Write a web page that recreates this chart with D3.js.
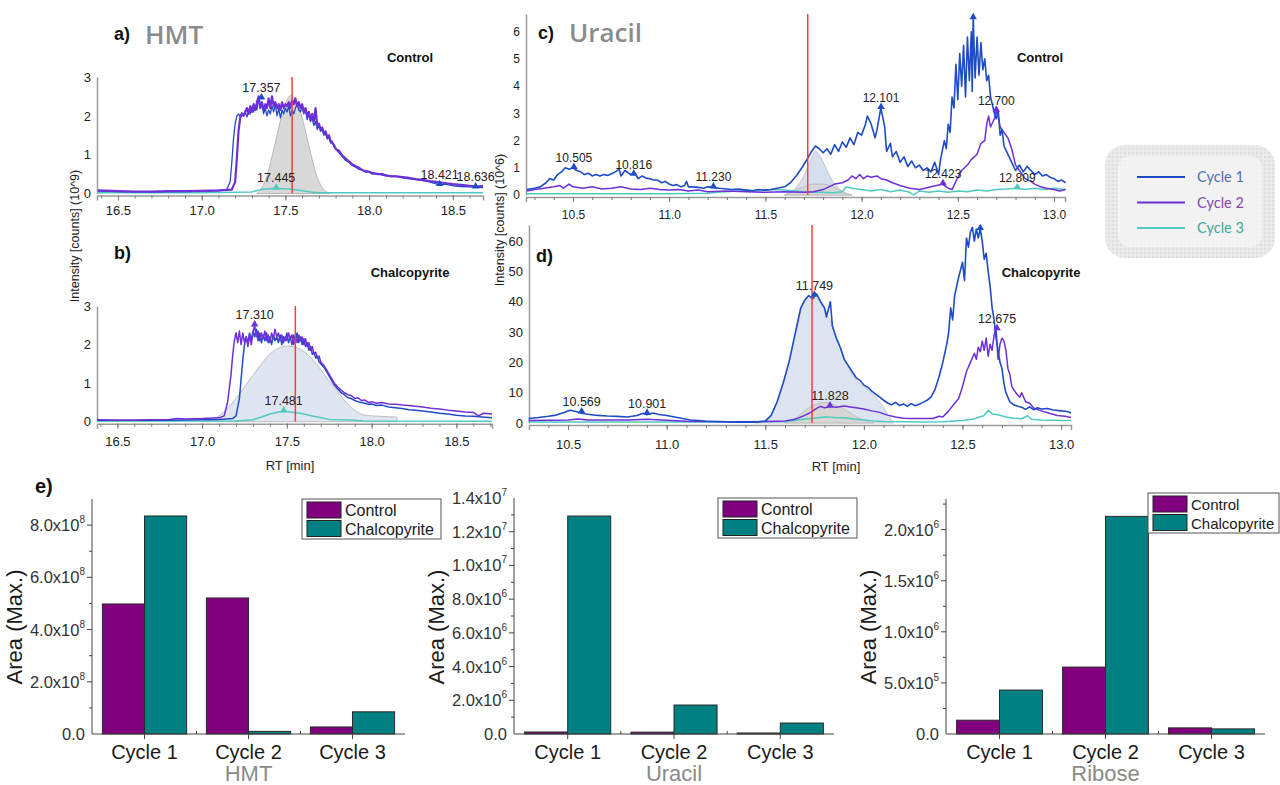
<!DOCTYPE html>
<html><head><meta charset="utf-8">
<script src="https://cdn.jsdelivr.net/npm/d3@7"></script>
<style>body{margin:0;background:#fff}svg{display:block}</style>
</head><body>
<svg id="chart" width="1280" height="785"></svg>
<script>
// ---------------- DATA ----------------
// a) HMT control, intensity (10^9) vs RT (min)
const hmtCtrlCycle1 = [[16.38,0.06],[16.5,0.05],[16.6,0.05],[16.7,0.04],[16.8,0.05],[16.9,0.05],[17.0,0.06],[17.1,0.07],[17.15,0.1],[17.17,0.3],[17.18,0.8],[17.19,1.4],[17.2,1.8],[17.21,2.0],[17.22,2.05],[17.23,1.98],[17.24,2.08],[17.25,2.02],[17.26,2.1],[17.27,1.97],[17.28,2.12],[17.29,2.05],[17.3,2.2],[17.31,2.1],[17.32,2.25],[17.33,2.15],[17.34,2.45],[17.35,2.2],[17.36,2.3],[17.37,2.05],[17.38,2.2],[17.39,2.0],[17.4,2.15],[17.41,2.05],[17.42,2.25],[17.43,2.1],[17.44,2.3],[17.45,2.0],[17.46,2.2],[17.47,1.95],[17.48,2.15],[17.49,2.05],[17.5,2.2],[17.51,2.1],[17.52,2.25],[17.53,2.0],[17.54,2.15],[17.55,2.05],[17.56,2.2],[17.57,2.3],[17.58,2.15],[17.59,2.1],[17.6,2.25],[17.61,2.05],[17.62,2.15],[17.63,1.9],[17.64,2.05],[17.65,1.85],[17.66,1.95],[17.67,1.75],[17.68,1.85],[17.69,1.65],[17.7,1.75],[17.71,1.6],[17.72,1.65],[17.73,1.5],[17.74,1.55],[17.75,1.4],[17.76,1.45],[17.77,1.3],[17.78,1.35],[17.79,1.2],[17.8,1.15],[17.82,1.05],[17.84,0.95],[17.86,0.85],[17.88,0.8],[17.9,0.72],[17.92,0.68],[17.94,0.62],[17.96,0.6],[17.98,0.55],[18.0,0.55],[18.02,0.5],[18.05,0.52],[18.08,0.47],[18.1,0.48],[18.13,0.43],[18.16,0.45],[18.2,0.4],[18.24,0.38],[18.28,0.36],[18.32,0.33],[18.36,0.3],[18.4,0.25],[18.42,0.22],[18.45,0.24],[18.5,0.2],[18.55,0.18],[18.6,0.17],[18.64,0.16],[18.68,0.15]];
const hmtCtrlCycle2 = [[16.38,0.08],[16.5,0.06],[16.6,0.05],[16.7,0.05],[16.8,0.06],[16.9,0.06],[17.0,0.07],[17.1,0.08],[17.18,0.1],[17.2,0.3],[17.21,0.9],[17.22,1.6],[17.23,1.95],[17.24,2.05],[17.25,2.0],[17.26,2.1],[17.27,2.2],[17.28,2.05],[17.29,2.25],[17.3,2.1],[17.31,2.3],[17.32,2.15],[17.33,2.35],[17.34,2.5],[17.35,2.2],[17.36,2.35],[17.37,2.15],[17.38,2.3],[17.39,2.2],[17.4,2.45],[17.41,2.2],[17.42,2.5],[17.43,2.25],[17.44,2.35],[17.45,2.2],[17.46,2.3],[17.47,2.15],[17.48,2.35],[17.49,2.2],[17.5,2.3],[17.51,2.25],[17.52,2.35],[17.53,2.2],[17.54,2.4],[17.55,2.3],[17.56,2.45],[17.57,2.25],[17.58,2.35],[17.59,2.2],[17.6,2.3],[17.61,2.1],[17.62,2.2],[17.63,2.0],[17.64,2.1],[17.65,1.9],[17.66,2.05],[17.67,1.85],[17.68,2.2],[17.69,1.75],[17.7,1.8],[17.71,1.65],[17.72,1.7],[17.73,1.55],[17.74,1.6],[17.75,1.45],[17.76,1.5],[17.77,1.35],[17.78,1.3],[17.79,1.25],[17.8,1.15],[17.82,1.1],[17.84,0.98],[17.86,0.9],[17.88,0.82],[17.9,0.75],[17.92,0.7],[17.94,0.66],[17.96,0.6],[17.98,0.58],[18.0,0.56],[18.02,0.53],[18.05,0.5],[18.08,0.5],[18.1,0.46],[18.13,0.45],[18.16,0.44],[18.2,0.42],[18.24,0.4],[18.28,0.37],[18.32,0.35],[18.36,0.32],[18.4,0.3],[18.45,0.27],[18.5,0.24],[18.55,0.22],[18.6,0.2],[18.64,0.18],[18.68,0.2]];
const hmtCtrlCycle3 = [[16.38,0.02],[17.0,0.02],[17.3,0.04],[17.35,0.1],[17.4,0.12],[17.445,0.13],[17.5,0.12],[17.55,0.1],[17.6,0.07],[17.65,0.04],[17.7,0.02],[18.68,0.02]];
const hmtCtrlFit = [[17.33,0],[17.36,0.15],[17.39,0.45],[17.42,0.95],[17.45,1.5],[17.48,2.05],[17.51,2.42],[17.53,2.52],[17.56,2.42],[17.59,2.1],[17.62,1.6],[17.65,1.05],[17.68,0.55],[17.71,0.22],[17.74,0.06],[17.77,0]];
const hmtCtrlPeaks = [[17.357,2.45,0],[17.445,0.13,2],[18.421,0.22,0],[18.636,0.16,0]];

// b) HMT chalcopyrite
const hmtChalCycle1 = [[16.38,0.04],[16.6,0.04],[16.8,0.04],[17.0,0.05],[17.1,0.06],[17.18,0.08],[17.2,0.15],[17.22,0.6],[17.23,1.1],[17.24,1.6],[17.25,2.0],[17.26,2.2],[17.27,2.05],[17.28,2.3],[17.29,2.1],[17.3,2.35],[17.31,2.2],[17.32,2.4],[17.33,2.1],[17.34,2.3],[17.35,2.05],[17.36,2.25],[17.37,2.1],[17.38,2.3],[17.39,2.05],[17.4,2.2],[17.41,2.0],[17.42,2.25],[17.43,2.1],[17.44,2.2],[17.45,2.05],[17.46,2.25],[17.47,2.0],[17.48,2.2],[17.49,2.1],[17.5,2.3],[17.51,2.05],[17.52,2.2],[17.53,2.0],[17.54,2.25],[17.55,2.1],[17.56,2.3],[17.57,2.05],[17.58,2.2],[17.59,2.0],[17.6,2.15],[17.61,1.95],[17.62,2.05],[17.63,1.85],[17.64,1.95],[17.65,1.75],[17.66,1.8],[17.67,1.65],[17.68,1.7],[17.69,1.55],[17.7,1.5],[17.72,1.4],[17.74,1.25],[17.76,1.1],[17.78,0.95],[17.8,0.85],[17.82,0.75],[17.84,0.7],[17.86,0.62],[17.88,0.6],[17.9,0.55],[17.92,0.52],[17.94,0.5],[17.96,0.48],[17.98,0.45],[18.0,0.46],[18.03,0.42],[18.06,0.43],[18.1,0.38],[18.14,0.36],[18.18,0.34],[18.22,0.31],[18.26,0.3],[18.3,0.28],[18.35,0.25],[18.4,0.22],[18.45,0.2],[18.5,0.17],[18.55,0.15],[18.6,0.14],[18.65,0.12],[18.71,0.1]];
const hmtChalCycle2 = [[16.38,0.05],[16.5,0.04],[16.6,0.04],[16.7,0.05],[16.8,0.05],[16.85,0.08],[16.9,0.07],[17.0,0.08],[17.1,0.1],[17.13,0.15],[17.15,0.5],[17.17,1.2],[17.18,1.7],[17.19,2.1],[17.2,2.3],[17.21,2.05],[17.22,2.35],[17.23,2.0],[17.24,2.3],[17.25,2.05],[17.26,2.2],[17.27,1.95],[17.28,2.25],[17.29,2.0],[17.3,2.3],[17.31,2.5],[17.32,2.2],[17.33,2.35],[17.34,2.1],[17.35,2.3],[17.36,2.15],[17.37,2.35],[17.38,2.1],[17.39,2.25],[17.4,2.05],[17.41,2.3],[17.42,2.15],[17.43,2.4],[17.44,2.2],[17.45,2.3],[17.46,2.1],[17.47,2.25],[17.48,2.05],[17.49,2.2],[17.5,2.1],[17.51,2.3],[17.52,2.15],[17.53,2.25],[17.54,2.0],[17.55,2.2],[17.56,2.05],[17.57,2.25],[17.58,2.1],[17.59,2.2],[17.6,2.0],[17.61,2.15],[17.62,1.95],[17.63,2.05],[17.64,1.85],[17.65,1.95],[17.66,1.75],[17.67,1.8],[17.68,1.65],[17.69,1.7],[17.7,1.55],[17.72,1.45],[17.74,1.3],[17.76,1.15],[17.78,1.0],[17.8,0.9],[17.82,0.82],[17.84,0.75],[17.86,0.7],[17.88,0.68],[17.9,0.6],[17.92,0.62],[17.94,0.55],[17.96,0.56],[17.98,0.5],[18.0,0.52],[18.03,0.48],[18.06,0.5],[18.1,0.46],[18.14,0.45],[18.18,0.43],[18.22,0.42],[18.26,0.4],[18.3,0.38],[18.35,0.35],[18.4,0.33],[18.45,0.3],[18.5,0.28],[18.55,0.25],[18.6,0.24],[18.63,0.15],[18.66,0.22],[18.71,0.2]];
const hmtChalCycle3 = [[16.38,0.01],[17.2,0.02],[17.3,0.05],[17.35,0.12],[17.4,0.2],[17.45,0.25],[17.48,0.27],[17.52,0.25],[17.56,0.23],[17.6,0.2],[17.65,0.15],[17.7,0.1],[17.75,0.06],[17.8,0.05],[17.9,0.04],[17.95,0.02],[18.71,0.01]];
const hmtChalFit = [[17.0,0],[17.05,0.05],[17.1,0.15],[17.15,0.35],[17.2,0.6],[17.25,0.9],[17.3,1.2],[17.35,1.5],[17.4,1.75],[17.45,1.9],[17.5,1.96],[17.55,1.93],[17.6,1.82],[17.65,1.62],[17.7,1.35],[17.75,1.05],[17.8,0.78],[17.85,0.5],[17.9,0.3],[17.95,0.18],[18.0,0.15],[18.05,0.14],[18.1,0.13],[18.15,0.12]];
const hmtChalPeaks = [[17.310,2.5,1],[17.481,0.27,2]];

// c) Uracil control, intensity (10^6)
const uraCtrlCycle1 = [[10.26,0.2],[10.3,0.25],[10.33,0.3],[10.36,0.45],[10.38,0.6],[10.4,0.55],[10.42,0.75],[10.44,0.85],[10.46,1.0],[10.48,0.95],[10.5,1.0],[10.52,0.9],[10.54,0.85],[10.56,0.75],[10.58,0.8],[10.6,0.7],[10.62,0.75],[10.64,0.7],[10.66,0.75],[10.68,0.72],[10.7,0.78],[10.72,0.85],[10.74,0.95],[10.75,0.7],[10.77,0.9],[10.8,0.75],[10.82,0.8],[10.84,0.6],[10.86,0.7],[10.88,0.62],[10.9,0.6],[10.92,0.55],[10.94,0.55],[10.96,0.45],[10.98,0.5],[11.0,0.4],[11.02,0.35],[11.04,0.38],[11.06,0.3],[11.08,0.35],[11.09,0.5],[11.1,0.3],[11.12,0.3],[11.15,0.28],[11.18,0.25],[11.2,0.3],[11.23,0.28],[11.26,0.25],[11.3,0.22],[11.33,0.2],[11.36,0.22],[11.4,0.18],[11.43,0.15],[11.46,0.2],[11.5,0.18],[11.53,0.2],[11.56,0.25],[11.6,0.3],[11.63,0.45],[11.66,0.7],[11.69,1.0],[11.72,1.35],[11.74,1.6],[11.76,1.8],[11.78,1.7],[11.8,1.55],[11.82,1.7],[11.84,1.5],[11.86,1.85],[11.88,1.6],[11.9,1.95],[11.92,1.75],[11.94,2.1],[11.96,1.85],[11.98,2.3],[12.0,2.2],[12.02,2.6],[12.03,2.9],[12.05,2.6],[12.07,2.1],[12.08,2.4],[12.1,3.2],[12.12,2.5],[12.13,1.6],[12.15,1.9],[12.16,1.4],[12.18,1.6],[12.2,1.2],[12.22,1.4],[12.24,1.05],[12.26,1.25],[12.28,1.0],[12.3,1.1],[12.32,0.9],[12.34,1.0],[12.36,0.85],[12.38,1.2],[12.4,0.75],[12.41,1.3],[12.43,2.0],[12.44,1.7],[12.45,2.6],[12.46,2.3],[12.47,3.6],[12.48,3.2],[12.49,4.8],[12.5,3.5],[12.51,5.2],[12.52,4.0],[12.53,5.5],[12.54,3.6],[12.55,5.8],[12.56,4.2],[12.57,6.0],[12.575,3.8],[12.58,6.5],[12.59,4.3],[12.6,5.8],[12.61,4.4],[12.62,5.6],[12.63,4.6],[12.64,5.0],[12.65,4.2],[12.66,4.4],[12.67,3.6],[12.68,3.3],[12.69,3.0],[12.7,2.8],[12.71,3.1],[12.72,2.2],[12.73,2.4],[12.74,1.8],[12.76,1.5],[12.78,1.2],[12.8,0.9],[12.82,1.1],[12.84,0.85],[12.86,1.05],[12.88,0.9],[12.9,0.75],[12.92,0.85],[12.94,0.7],[12.96,0.75],[12.98,0.65],[13.0,0.6],[13.02,0.5],[13.04,0.55],[13.06,0.45]];
const uraCtrlCycle2 = [[10.26,0.15],[10.3,0.2],[10.35,0.25],[10.4,0.3],[10.43,0.35],[10.45,0.25],[10.48,0.4],[10.5,0.3],[10.55,0.25],[10.6,0.3],[10.65,0.22],[10.7,0.25],[10.75,0.3],[10.8,0.22],[10.85,0.2],[10.9,0.25],[10.95,0.2],[11.0,0.18],[11.05,0.2],[11.1,0.15],[11.15,0.18],[11.2,0.12],[11.3,0.15],[11.4,0.12],[11.5,0.1],[11.6,0.12],[11.7,0.1],[11.75,0.12],[11.8,0.2],[11.83,0.3],[11.86,0.4],[11.9,0.45],[11.93,0.55],[11.95,0.7],[11.97,0.6],[11.99,0.75],[12.01,0.6],[12.03,0.7],[12.05,0.65],[12.08,0.7],[12.1,0.6],[12.13,0.55],[12.16,0.45],[12.2,0.35],[12.25,0.25],[12.3,0.2],[12.33,0.25],[12.36,0.3],[12.39,0.35],[12.42,0.4],[12.45,0.25],[12.47,0.2],[12.49,0.5],[12.52,0.9],[12.55,1.1],[12.57,1.3],[12.6,1.5],[12.62,1.9],[12.64,2.0],[12.65,2.6],[12.66,2.9],[12.67,2.5],[12.69,2.8],[12.7,3.1],[12.71,2.9],[12.72,2.5],[12.74,2.3],[12.76,2.1],[12.78,1.7],[12.8,1.1],[12.82,0.9],[12.85,0.6],[12.88,0.5],[12.9,0.4],[12.93,0.3],[12.96,0.25],[13.0,0.2],[13.03,0.15],[13.06,0.2]];
const uraCtrlCycle3 = [[10.26,0.05],[10.5,0.05],[11.0,0.05],[11.2,0.06],[11.25,0.1],[11.3,0.12],[11.35,0.15],[11.4,0.18],[11.45,0.15],[11.5,0.18],[11.55,0.2],[11.6,0.18],[11.65,0.15],[11.7,0.12],[11.75,0.1],[11.8,0.1],[11.85,0.08],[11.9,0.12],[11.92,0.3],[11.95,0.25],[12.0,0.2],[12.05,0.15],[12.1,0.2],[12.15,0.12],[12.2,0.18],[12.25,0.1],[12.27,0.0],[12.3,0.15],[12.35,0.1],[12.4,0.15],[12.45,0.1],[12.5,0.15],[12.55,0.12],[12.6,0.18],[12.65,0.15],[12.7,0.2],[12.75,0.22],[12.8,0.25],[12.85,0.2],[12.9,0.25],[12.95,0.2],[13.0,0.25],[13.06,0.2]];
const uraCtrlFit = [[11.6,0],[11.65,0.2],[11.7,0.7],[11.73,1.2],[11.76,1.6],[11.79,1.35],[11.82,0.9],[11.85,0.5],[11.88,0.25],[11.92,0.05],[11.95,0]];
const uraCtrlFit2 = [[11.6,0],[11.65,0.15],[11.7,0.3],[11.75,0.4],[11.8,0.4],[11.85,0.3],[11.9,0.12],[11.95,0]];
const uraCtrlPeaks = [[10.505,1.0,0],[10.816,0.75,0],[11.230,0.28,0],[12.101,3.2,0],[12.423,0.4,1],[12.700,3.1,1],[12.809,0.25,2],[12.58,6.5,0,""]];

// d) Uracil chalcopyrite
const uraChalCycle1 = [[10.3,1.5],[10.35,1.8],[10.4,2.2],[10.44,2.6],[10.48,3.5],[10.51,4.2],[10.54,3.8],[10.57,3.2],[10.6,2.9],[10.65,2.5],[10.7,2.3],[10.75,2.2],[10.8,2.0],[10.85,2.5],[10.88,3.2],[10.9,2.7],[10.93,3.3],[10.96,2.8],[11.0,2.5],[11.04,2.0],[11.08,1.5],[11.12,1.0],[11.16,0.8],[11.2,0.6],[11.25,0.5],[11.3,0.4],[11.35,0.3],[11.4,0.3],[11.45,0.3],[11.5,0.6],[11.53,2.5],[11.56,7],[11.59,13],[11.62,20],[11.64,26],[11.66,32],[11.68,38],[11.7,40.5],[11.72,42],[11.74,41],[11.76,42.5],[11.78,40],[11.8,38],[11.81,35],[11.83,40],[11.84,32],[11.86,28],[11.88,25],[11.9,21],[11.92,19],[11.94,17],[11.96,15],[11.98,14],[12.0,12.5],[12.02,11.8],[12.04,10.5],[12.06,9.5],[12.08,8.5],[12.1,7.5],[12.12,6.6],[12.14,6.0],[12.16,6.8],[12.18,5.8],[12.2,6.3],[12.22,5.5],[12.24,6.4],[12.26,5.7],[12.28,6.2],[12.3,6.8],[12.32,7.5],[12.34,8.5],[12.36,11],[12.38,15],[12.4,20],[12.42,26],[12.43,30],[12.44,38],[12.45,34],[12.46,42],[12.48,48],[12.5,53],[12.51,47],[12.52,61],[12.53,58],[12.54,63],[12.55,64.5],[12.56,60],[12.57,64],[12.58,61],[12.59,64],[12.6,60],[12.61,54],[12.62,56],[12.63,50],[12.64,45],[12.65,38],[12.66,34],[12.67,28],[12.68,24],[12.69,20],[12.7,18],[12.71,13],[12.72,10],[12.74,7],[12.76,6],[12.78,5.5],[12.8,5.2],[12.82,4.5],[12.84,5.3],[12.86,4.4],[12.88,5.0],[12.9,4.6],[12.93,4.8],[12.96,4.3],[13.0,4.0],[13.03,3.8],[13.05,3.3]];
const uraChalCycle2 = [[10.3,0.8],[10.4,0.9],[10.5,1.0],[10.55,1.3],[10.6,1.0],[10.7,1.0],[10.8,1.0],[10.9,1.2],[11.0,0.9],[11.1,0.6],[11.2,0.5],[11.3,0.4],[11.4,0.4],[11.5,0.5],[11.6,0.7],[11.65,1.2],[11.7,2.5],[11.73,3.5],[11.76,4.8],[11.78,5.5],[11.8,5.0],[11.83,5.4],[11.86,5.2],[11.9,5.6],[11.93,5.3],[11.96,5.0],[12.0,4.6],[12.04,4.0],[12.08,3.5],[12.12,2.6],[12.16,2.0],[12.2,1.6],[12.25,1.5],[12.3,1.5],[12.35,1.5],[12.38,2.2],[12.4,2.0],[12.43,4.0],[12.46,6.5],[12.48,8],[12.5,12],[12.52,17],[12.54,20],[12.56,23],[12.57,21],[12.58,25],[12.59,23.5],[12.6,27],[12.61,24],[12.62,28],[12.63,22],[12.64,26],[12.65,24],[12.66,29],[12.67,31],[12.68,21],[12.69,26],[12.7,28],[12.71,27],[12.72,24],[12.73,18],[12.74,16],[12.75,12],[12.77,10],[12.79,8.5],[12.8,10],[12.82,7],[12.84,6.5],[12.86,5],[12.88,4.5],[12.9,4],[12.94,3.2],[12.98,2.5],[13.02,2.2],[13.05,1.8]];
const uraChalCycle3 = [[10.3,0.3],[10.6,0.3],[11.0,0.3],[11.4,0.3],[11.6,0.5],[11.65,0.8],[11.7,1.3],[11.75,1.6],[11.8,2.0],[11.85,1.8],[11.9,1.7],[11.95,1.3],[12.0,1.0],[12.05,0.7],[12.1,0.5],[12.2,0.4],[12.3,0.3],[12.4,0.4],[12.5,0.8],[12.55,1.2],[12.58,1.8],[12.61,2.5],[12.63,4.2],[12.65,3.0],[12.68,2.7],[12.72,2.0],[12.76,1.6],[12.8,1.4],[12.83,2.4],[12.85,1.2],[12.9,1.0],[12.95,0.9],[13.0,0.8],[13.05,0.8]];
const uraChalFit = [[11.45,0],[11.5,1],[11.53,2.5],[11.56,7],[11.59,13],[11.62,20],[11.64,26],[11.66,32],[11.68,37],[11.7,40],[11.73,41],[11.76,41],[11.79,39],[11.82,35],[11.85,30],[11.88,25],[11.91,20],[11.94,16],[11.97,13.5],[12.0,12],[12.03,10.5],[12.06,8.5],[12.09,6],[12.12,3],[12.15,0]];
const uraChalFit2 = [[11.6,0],[11.65,1.5],[11.7,4],[11.75,6],[11.8,6.8],[11.85,6],[11.9,4.5],[11.95,2.5],[12.0,1],[12.05,0]];
const uraChalPeaks = [[10.569,3.5,0],[10.901,3.0,0],[11.749,42,0],[11.828,5.5,1],[12.675,31,1],[12.59,64,0,""]];

// reference retention times (red lines)
const refRT = {a:17.54, b:17.55, c:11.72, d:11.737};

// chromatogram tick values
const hmtRTTicks = [16.5,17.0,17.5,18.0,18.5];
const hmtIntTicks = [0,1,2,3];
const uraRTTicks = [10.5,11.0,11.5,12.0,12.5,13.0];
const uraCtrlIntTicks = [0,1,2,3,4,5,6];
const uraChalIntTicks = [0,10,20,30,40,50,60];

const cycleNames = ["Cycle 1","Cycle 2","Cycle 3"];

// e) peak areas
const treatments = ["Control","Chalcopyrite"];
const hmtAreaControl = [4.98e8, 5.21e8, 0.27e8];
const hmtAreaChalco  = [8.35e8, 0.10e8, 0.85e8];
const uraAreaControl = [1.2e5, 1.1e5, 0.6e5];
const uraAreaChalco  = [1.293e7, 1.72e6, 6.5e5];
const ribAreaControl = [1.35e5, 6.55e5, 6.0e4];
const ribAreaChalco  = [4.3e5, 2.13e6, 5.0e4];
const hmtAreaTicks = [0,2e8,4e8,6e8,8e8];
const uraAreaTicks = [0,2e6,4e6,6e6,8e6,1e7,1.2e7,1.4e7];
const ribAreaTicks = [0,5e5,1e6,1.5e6,2e6];

// ---------------- DRAW ----------------
const svg = d3.select("#chart");
const cycleColors = ["#1f4cc6","#6e2fd8","#4fcac0"];
const NARROW = "'Liberation Sans Narrow','Arial Narrow','Liberation Sans',Arial,sans-serif";
const SANS = "'Liberation Sans',Arial,sans-serif";

function drawChromo(cfg){
  const g = svg.append("g");
  const x = d3.scaleLinear().domain(cfg.xd).range(cfg.xr);
  const y = d3.scaleLinear().domain(cfg.yd).range(cfg.yr);
  const y0 = cfg.yr[0];
  cfg.fills.forEach(f=>{
    g.append("path").datum(f.data)
      .attr("d", d3.area().x(d=>x(d[0])).y0(y(0)).y1(d=>y(d[1])).curve(d3.curveMonotoneX))
      .attr("fill", f.fill).attr("fill-opacity", f.op||1)
      .attr("stroke", f.stroke).attr("stroke-width", 1);
  });
  const xa = g.append("g").attr("transform",`translate(0,${y0+2})`)
    .call(d3.axisBottom(x).tickValues(cfg.xt).tickSize(5).tickPadding(cfg.tickPad).tickFormat(d3.format(".1f")));
  const minor = d3.range(Math.ceil(cfg.xd[0]*10), Math.floor(cfg.xd[1]*10)+1).map(v=>v/10);
  g.append("g").attr("transform",`translate(0,${y0+2})`)
    .call(d3.axisBottom(x).tickValues(minor).tickSize(3).tickFormat(""))
    .call(s=>s.select(".domain").remove());
  xa.select(".domain").attr("stroke","#9a9a9a").attr("stroke-width",1.5);
  g.selectAll(".tick line").attr("stroke","#777");
  xa.selectAll("text").attr("font-family",cfg.font).attr("font-size",cfg.fs).attr("fill","#222");
  const ya = g.append("g").attr("transform",`translate(${cfg.xr[0]},0)`)
    .call(d3.axisLeft(y).tickValues(cfg.yt).tickSize(0).tickPadding(6).tickFormat(d3.format("d")));
  ya.select(".domain").attr("stroke","#9a9a9a").attr("stroke-width",1.5);
  ya.selectAll("text").attr("font-family",cfg.font).attr("font-size",cfg.fs).attr("fill","#222");
  const line = d3.line().x(d=>x(d[0])).y(d=>y(d[1]));
  cfg.order.forEach(i=>{
    g.append("path").datum(cfg.series[i]).attr("d",line).attr("fill","none")
      .attr("stroke",cycleColors[i]).attr("stroke-width",cfg.widths[i]).attr("stroke-linejoin","round");
  });
  g.append("line").attr("x1",x(cfg.ref)).attr("x2",x(cfg.ref)).attr("y1",cfg.yr[1]).attr("y2",y0)
    .attr("stroke","#ff3b3b").attr("stroke-width",1.5);
  const tri = d3.symbol(d3.symbolTriangle, 24);
  cfg.peaks.forEach(p=>{
    const px = x(p[0]), py = y(p[1]);
    g.append("path").attr("d",tri()).attr("transform",`translate(${px},${py-1})`).attr("fill",cycleColors[p[2]]);
    const lbl = p.length>3 ? p[3] : p[0].toFixed(3);
    if(lbl) g.append("text").attr("x",px).attr("y",py-6).attr("text-anchor","middle")
      .attr("font-family",cfg.font).attr("font-size",cfg.lfs).attr("fill","#222").text(lbl);
  });
  return {x,y};
}

drawChromo({xd:[16.375,18.68], xr:[97,483], yd:[0,3], yr:[193.5,77], xt:hmtRTTicks, yt:hmtIntTicks,
  series:[hmtCtrlCycle1,hmtCtrlCycle2,hmtCtrlCycle3], order:[2,0,1], widths:[1.3,2.2,1.5],
  fills:[{data:hmtCtrlFit, fill:"#d8d8d8", stroke:"#b8b8b8"}], ref:refRT.a, peaks:hmtCtrlPeaks,
  font:NARROW, fs:13, lfs:12.5, tickPad:5});
drawChromo({xd:[16.38,18.71], xr:[97,492], yd:[0,3], yr:[421.7,306], xt:hmtRTTicks, yt:hmtIntTicks,
  series:[hmtChalCycle1,hmtChalCycle2,hmtChalCycle3], order:[2,0,1], widths:[1.5,1.5,1.5],
  fills:[{data:hmtChalFit, fill:"#dfe6f2", stroke:"#bdbdbd"}], ref:refRT.b, peaks:hmtChalPeaks,
  font:NARROW, fs:13, lfs:12.5, tickPad:8});
drawChromo({xd:[10.256,13.057], xr:[526,1065], yd:[0,6.65], yr:[195,14], xt:uraRTTicks, yt:uraCtrlIntTicks,
  series:[uraCtrlCycle1,uraCtrlCycle2,uraCtrlCycle3], order:[2,1,0], widths:[1.6,1.5,1.5],
  fills:[{data:uraCtrlFit, fill:"#d6dff0", stroke:"#c4c4c4"},{data:uraCtrlFit2, fill:"#d4d4d4", stroke:"#bdbdbd", op:0.8}],
  ref:refRT.c, peaks:uraCtrlPeaks, font:SANS, fs:12, lfs:12, tickPad:8});
drawChromo({xd:[10.302,13.05], xr:[529,1071], yd:[0,65.3], yr:[423,225], xt:uraRTTicks, yt:uraChalIntTicks,
  series:[uraChalCycle1,uraChalCycle2,uraChalCycle3], order:[2,1,0], widths:[1.6,1.5,1.5],
  fills:[{data:uraChalFit, fill:"#dde4f1", stroke:"#c8c8c8"},{data:uraChalFit2, fill:"#d6d3cc", stroke:"#c0c0c0", op:0.85}],
  ref:refRT.d, peaks:uraChalPeaks, font:NARROW, fs:13, lfs:12.5, tickPad:10});

function txt(x,y,s,o){
  const t = svg.append("text").attr("x",x).attr("y",y).text(s)
    .attr("font-family",o.font||SANS).attr("font-size",o.size).attr("font-weight",o.weight||"normal")
    .attr("fill",o.fill||"#111").attr("text-anchor",o.anchor||"start");
  if(o.rotate) t.attr("transform",`rotate(-90,${x},${y})`);
  return t;
}
const titleFont = "'Open Sans',Lato,sans-serif";
txt(114,40,"a)",{size:18,weight:"bold"});
txt(145,44,"HMT",{size:26,weight:"600",fill:"#8b8b8b",font:titleFont});
txt(114,259,"b)",{size:18,weight:"bold"});
txt(538,39,"c)",{size:18,weight:"bold"});
txt(569,42,"Uracil",{size:26,weight:"600",fill:"#8b8b8b",font:titleFont});
txt(536,262,"d)",{size:18,weight:"bold"});
txt(410,62,"Control",{size:13,weight:"bold",anchor:"middle"});
txt(410,277,"Chalcopyrite",{size:13,weight:"bold",anchor:"middle"});
txt(1040,62,"Control",{size:13,weight:"bold",anchor:"middle"});
txt(1041,277,"Chalcopyrite",{size:13,weight:"bold",anchor:"middle"});
txt(290,470,"RT [min]",{size:13,anchor:"middle",font:NARROW,fill:"#222"});
txt(836,471,"RT [min]",{size:13,anchor:"middle",font:NARROW,fill:"#222"});
txt(79,236,"Intensity [counts] (10^9)",{size:12.5,anchor:"middle",rotate:true,font:NARROW,fill:"#222"});
txt(504,220,"Intensity [counts] (10^6)",{size:12.5,anchor:"middle",rotate:true,font:NARROW,fill:"#222"});

// chromatogram legend
const defs = svg.append("defs");
const pat = defs.append("pattern").attr("id","dots").attr("width",4).attr("height",4).attr("patternUnits","userSpaceOnUse");
pat.append("rect").attr("width",4).attr("height",4).attr("fill","#e9e9e9");
pat.append("circle").attr("cx",1).attr("cy",1).attr("r",0.8).attr("fill","#d2d2d2");
pat.append("circle").attr("cx",3).attr("cy",3).attr("r",0.6).attr("fill","#f7f7f7");
svg.append("rect").attr("x",1105).attr("y",145).attr("width",170).attr("height",113).attr("rx",20).attr("fill","url(#dots)");
svg.append("rect").attr("x",1118).attr("y",156).attr("width",144).attr("height",91).attr("rx",12).attr("fill","#f6f6f6").attr("fill-opacity",0.75);
const legTextColors = ["#4d6fae","#8446b0","#3fa9a0"];
cycleNames.forEach((n,i)=>{
  const ly = 177 + i*25.5;
  svg.append("line").attr("x1",1137).attr("x2",1185).attr("y1",ly).attr("y2",ly).attr("stroke",cycleColors[i]).attr("stroke-width",2.2);
  txt(1197,ly+5,n,{size:14.5,fill:legTextColors[i],font:"Lato,'Open Sans',sans-serif"});
});

// ---------------- BAR CHARTS ----------------
const barColors = ["#800080","#008080"];
function sciLabel(sel, v){
  if(v===0){ sel.text("0.0"); return; }
  const e = Math.floor(Math.log10(v)+1e-9);
  const m = v/Math.pow(10,e);
  sel.text(null);
  sel.append("tspan").text(m.toFixed(1)+"x10");
  sel.append("tspan").attr("font-size",10).attr("dy",-8).text(e);
}
function drawBars(cfg){
  const g = svg.append("g");
  const x = d3.scaleBand().domain(cycleNames).range(cfg.xr).paddingInner(0.19).paddingOuter(0.1);
  const xs = d3.scaleBand().domain(treatments).range([0,x.bandwidth()]);
  const y = d3.scaleLinear().domain(cfg.yd).range([734,cfg.top]);
  const vals = [cfg.control, cfg.chalco];
  cycleNames.forEach((c,ci)=>{
    treatments.forEach((t,ti)=>{
      const v = vals[ti][ci];
      g.append("rect").attr("x",x(c)+xs(t)).attr("y",y(v)).attr("width",xs.bandwidth()).attr("height",y(0)-y(v))
        .attr("fill",barColors[ti]).attr("stroke","#2a2a2a").attr("stroke-width",1);
    });
  });
  g.append("line").attr("x1",cfg.xr[0]).attr("x2",cfg.xr[0]).attr("y1",cfg.top).attr("y2",734).attr("stroke","#444");
  g.append("line").attr("x1",cfg.xr[0]).attr("x2",cfg.xr[1]).attr("y1",734).attr("y2",734).attr("stroke","#444");
  const step = cfg.ticks[1]-cfg.ticks[0];
  const minorT = d3.range(step/2, cfg.yd[1], step/2);
  minorT.forEach(v=>{
    g.append("line").attr("x1",cfg.xr[0]-(cfg.ticks.some(t=>Math.abs(t-v)<1)?5:3)).attr("x2",cfg.xr[0]).attr("y1",y(v)).attr("y2",y(v)).attr("stroke","#444");
  });
  cfg.ticks.forEach(v=>{
    const t = g.append("text").attr("x",cfg.xr[0]-7).attr("y",y(v)+6).attr("text-anchor","end")
      .attr("font-family",SANS).attr("font-size",16.5).attr("fill","#333");
    sciLabel(t,v);
  });
  cycleNames.forEach(c=>{
    const cx = x(c)+x.bandwidth()/2;
    g.append("line").attr("x1",cx).attr("x2",cx).attr("y1",734).attr("y2",739).attr("stroke","#444");
    txt(cx,759,c,{size:20,anchor:"middle",fill:"#1a1a1a"});
  });
  [1,2].forEach(i=>{
    const bx = x(cycleNames[i]) - x.step()*x.paddingInner()/2;
    g.append("line").attr("x1",bx).attr("x2",bx).attr("y1",734).attr("y2",731).attr("stroke","#444");
  });
  txt(x(cycleNames[1])+x.bandwidth()/2,781,cfg.name,{size:22,anchor:"middle",fill:"#8a8a8a"});
  txt(cfg.xr[0]-70,627,"Area (Max.)",{size:22,anchor:"middle",rotate:true,fill:"#1a1a1a"});
  const L = cfg.leg;
  g.append("rect").attr("x",L[0]).attr("y",L[1]).attr("width",L[2]).attr("height",40).attr("fill","#fff").attr("stroke","#555");
  treatments.forEach((t,i)=>{
    g.append("rect").attr("x",L[0]+5).attr("y",L[1]+3+i*18.5).attr("width",34).attr("height",16)
      .attr("fill",barColors[i]).attr("stroke","#222");
    txt(L[0]+43,L[1]+17+i*19,t,{size:L[3],fill:"#1a1a1a"});
  });
}
drawBars({xr:[92,405], yd:[0,9e8], top:499, ticks:hmtAreaTicks, control:hmtAreaControl, chalco:hmtAreaChalco, name:"HMT", leg:[302,499,139,16]});
drawBars({xr:[514,834], yd:[0,1.4e7], top:498, ticks:uraAreaTicks, control:uraAreaControl, chalco:uraAreaChalco, name:"Uracil", leg:[718,498,139,16]});
drawBars({xr:[946,1265], yd:[0,2.3e6], top:499, ticks:ribAreaTicks, control:ribAreaControl, chalco:ribAreaChalco, name:"Ribose", leg:[1148,493,131,15]});
txt(35,493,"e)",{size:20,weight:"bold"});
</script>
</body></html>
